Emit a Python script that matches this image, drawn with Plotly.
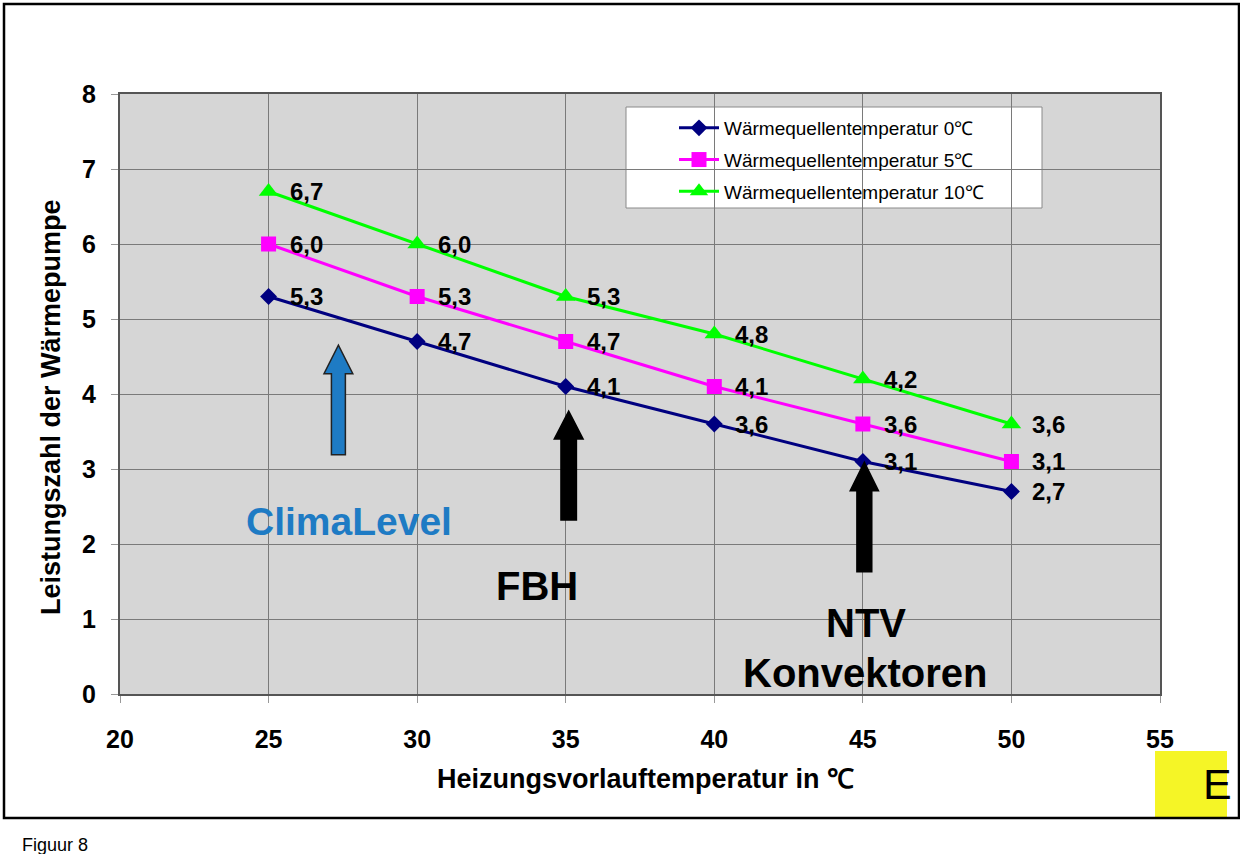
import plotly.graph_objects as go

temps = [25, 30, 35, 40, 45, 50]
cop_0 = [5.3, 4.7, 4.1, 3.6, 3.1, 2.7]
cop_5 = [6.0, 5.3, 4.7, 4.1, 3.6, 3.1]
cop_10 = [6.7, 6.0, 5.3, 4.8, 4.2, 3.6]
names = ["Wärmequellentemperatur 0℃", "Wärmequellentemperatur 5℃", "Wärmequellentemperatur 10℃"]
x_ticks = [20, 25, 30, 35, 40, 45, 50, 55]
y_ticks = [0, 1, 2, 3, 4, 5, 6, 7, 8]

FONT = "Liberation Sans, Arial, sans-serif"
series = [
    (cop_0, names[0], "#000080", "diamond", 13),
    (cop_5, names[1], "#ff00ff", "square", 15),
    (cop_10, names[2], "#00ff00", "triangle-up", 17),
]

def px_x(p):
    return (p - 120) / 1040

def px_y(p):
    return (694 - p) / 600

fig = go.Figure()
annotations = []
for i, (ys, name, color, sym, size) in enumerate(series):
    fig.add_trace(go.Scatter(
        x=temps, y=ys, name=name, mode="lines+markers", legendgroup=f"g{i}",
        line=dict(color=color, width=3),
        marker=dict(symbol=sym, size=size, color=color),
    ))
    for xv, yv in zip(temps, ys):
        annotations.append(dict(
            x=xv, y=yv, xref="x", yref="y", text=f"{yv:.1f}".replace(".", ","),
            showarrow=False, xanchor="left", yanchor="middle", xshift=19,
            font=dict(family=FONT, size=24, color="black", weight="bold"),
        ))

def block_arrow(xc, y_tail, y_base, y_tip, shaft_w, head_w, fill, line):
    p = (f"M {xc - shaft_w/2} {y_tail} L {xc - shaft_w/2} {y_base} L {xc - head_w/2} {y_base} "
         f"L {xc} {y_tip} L {xc + head_w/2} {y_base} L {xc + shaft_w/2} {y_base} "
         f"L {xc + shaft_w/2} {y_tail} Z")
    return dict(type="path", xref="x", yref="y", path=p, fillcolor=fill,
                line=dict(color=line, width=1.5), layer="above")

shapes = [
    # outer frame
    dict(type="rect", xref="paper", yref="paper", x0=px_x(4), x1=px_x(1239), y0=px_y(818), y1=px_y(4),
         line=dict(color="black", width=2.5), fillcolor="rgba(0,0,0,0)", layer="above"),
    # yellow box
    dict(type="rect", xref="paper", yref="paper", x0=px_x(1155), x1=px_x(1227), y0=px_y(818), y1=px_y(751),
         line=dict(width=0), fillcolor="#f5f526", layer="below"),
    # legend box
    dict(type="rect", xref="paper", yref="paper", x0=px_x(626), x1=px_x(1042), y0=px_y(208), y1=px_y(107),
         line=dict(color="#8a8a8a", width=1), fillcolor="white", layer="between"),
    block_arrow(27.35, 3.19, 4.27, 4.65, 0.47, 0.97, "#1e7bc4", "#222222"),
    block_arrow(35.1, 2.32, 3.40, 3.77, 0.52, 0.97, "black", "black"),
    block_arrow(45.05, 1.63, 2.71, 3.09, 0.5, 0.95, "black", "black"),
]

annotations += [
    dict(x=27.7, y=px_y(521), xref="x", yref="paper", text="ClimaLevel", showarrow=False,
         xanchor="center", yanchor="middle",
         font=dict(family=FONT, size=39, color="#1e7bc4", weight="bold")),
    dict(x=34.05, y=px_y(586), xref="x", yref="paper", text="FBH", showarrow=False,
         xanchor="center", yanchor="middle",
         font=dict(family=FONT, size=40, color="black", weight="bold")),
    dict(x=45.1, y=px_y(623), xref="x", yref="paper", text="NTV", showarrow=False,
         xanchor="center", yanchor="middle",
         font=dict(family=FONT, size=40, color="black", weight="bold")),
    dict(x=45.1, y=px_y(673), xref="x", yref="paper", text="Konvektoren", showarrow=False,
         xanchor="center", yanchor="middle",
         font=dict(family=FONT, size=40, color="black", weight="bold")),
    dict(x=px_x(645), y=px_y(779), xref="paper", yref="paper", text="Heizungsvorlauftemperatur in ℃",
         showarrow=False, xanchor="center", yanchor="middle",
         font=dict(family=FONT, size=27, color="black", weight="bold")),
    dict(x=px_x(51), y=px_y(407), xref="paper", yref="paper", text="Leistungszahl der Wärmepumpe",
         showarrow=False, xanchor="center", yanchor="middle", textangle=-90,
         font=dict(family=FONT, size=27, color="black", weight="bold")),
    dict(x=px_x(20), y=px_y(845), xref="paper", yref="paper", text="Figuur 8",
         showarrow=False, xanchor="left", yanchor="middle",
         font=dict(family=FONT, size=18, color="black")),
    dict(x=px_x(1201), y=px_y(784), xref="paper", yref="paper", text="E",
         showarrow=False, xanchor="left", yanchor="middle",
         font=dict(family=FONT, size=43, color="black")),
]

fig.update_layout(
    width=1240, height=854,
    margin=dict(l=120, r=80, t=94, b=160),
    paper_bgcolor="white", plot_bgcolor="#d6d6d6",
    font=dict(family=FONT, color="black"),
    showlegend=True,
    legend=dict(x=px_x(674), y=px_y(109), xanchor="left", yanchor="top",
                bgcolor="rgba(0,0,0,0)", borderwidth=0,
                font=dict(family=FONT, size=19, color="black"),
                itemwidth=40, tracegroupgap=4),
    shapes=shapes,
    annotations=annotations,
    xaxis=dict(range=[20, 55], tickvals=x_ticks, ticktext=[str(v) for v in x_ticks],
               showgrid=True, gridcolor="#7a7a7a", gridwidth=1, zeroline=False,
               showline=True, linecolor="#555555", linewidth=2, mirror=True,
               ticks="outside", ticklen=7, tickcolor="#999999",
               ticklabelstandoff=15,
               tickfont=dict(family=FONT, size=25, weight="bold")),
    yaxis=dict(range=[0, 8], tickvals=y_ticks, ticktext=[str(v) for v in y_ticks],
               showgrid=True, gridcolor="#7a7a7a", gridwidth=1, zeroline=False,
               showline=True, linecolor="#555555", linewidth=2, mirror=True,
               ticks="outside", ticklen=7, tickcolor="#999999",
               ticklabelstandoff=10,
               tickfont=dict(family=FONT, size=25, weight="bold")),
)

fig.write_html("out.html")
